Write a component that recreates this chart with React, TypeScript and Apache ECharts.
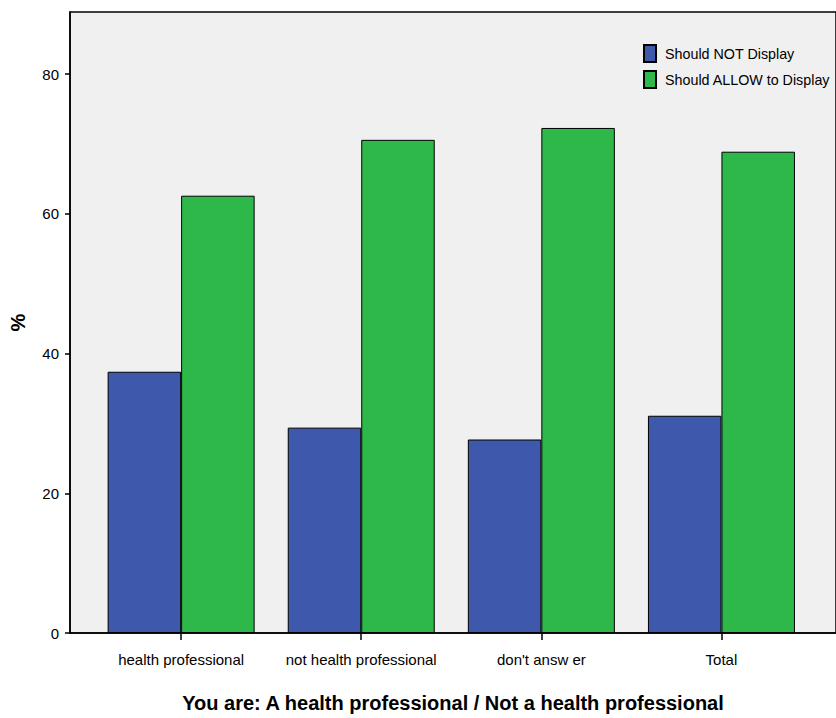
import React, { useEffect, useRef } from "react";
import * as echarts from "echarts";

const categories = ["health professional", "not health professional", "don't answ er", "Total"];
const seriesNames = ["Should NOT Display", "Should ALLOW to Display"];
const notDisplay = [37.4, 29.4, 27.7, 31.1];
const allowDisplay = [62.6, 70.6, 72.3, 68.9];
const yTicks = [0, 20, 40, 60, 80];
const xTitle = "You are: A health professional / Not a health professional";
const yTitle = "%";

const FONT = "'Liberation Sans', Arial, sans-serif";

export default function App() {
  const ref = useRef<HTMLDivElement>(null);
  useEffect(() => {
    if (!ref.current) return;
    const chart = echarts.init(ref.current, undefined, { renderer: "svg" });
    const idx = categories.map((_, i) => i);
    chart.setOption({
      animation: false,
      textStyle: { fontFamily: FONT, color: "#000" },
      grid: {
        left: 67,
        top: 12,
        bottom: 82,
        right: -3,
        show: true,
        backgroundColor: "#f0f0f0",
        borderColor: "#000",
        borderWidth: 1.5,
      },
      legend: {
        orient: "vertical",
        left: 643,
        top: 44,
        padding: 0,
        itemWidth: 12,
        itemHeight: 17,
        itemGap: 7,
        icon: "rect",
        textStyle: { fontSize: 14.3, color: "#000", fontFamily: FONT, padding: [0, 0, 0, 4] },
        data: seriesNames,
      },
      xAxis: {
        type: "value",
        min: -0.617,
        max: 3.636,
        name: xTitle,
        nameLocation: "middle",
        nameGap: 60,
        nameTextStyle: { fontSize: 20, fontWeight: "bold", color: "#000", fontFamily: FONT },
        axisLine: { show: true, onZero: false, lineStyle: { color: "#000", width: 1.5 } },
        axisTick: { show: true, length: 7, customValues: idx, lineStyle: { color: "#000", width: 1.5 } },
        axisLabel: {
          customValues: idx,
          margin: 19,
          fontSize: 15,
          color: "#000",
          fontFamily: FONT,
          formatter: (v: number) => categories[Math.round(v)] ?? "",
        },
        splitLine: { show: false },
      },
      yAxis: {
        type: "value",
        min: 0,
        max: 88.9,
        name: yTitle,
        nameLocation: "middle",
        nameGap: 42,
        nameTextStyle: { fontSize: 20, fontWeight: "bold", color: "#000", fontFamily: FONT },
        axisLine: { show: true, onZero: false, lineStyle: { color: "#000", width: 1.5 } },
        axisTick: { show: true, length: 5, customValues: yTicks, lineStyle: { color: "#000", width: 1.5 } },
        axisLabel: { customValues: yTicks, margin: 11, fontSize: 15, color: "#000", fontFamily: FONT },
        splitLine: { show: false },
      },
      series: [
        {
          name: seriesNames[0],
          type: "bar",
          barWidth: 73.5,
          barGap: "0%",
          itemStyle: { color: "#3e58ac", borderColor: "#000", borderWidth: 1 },
          data: notDisplay.map((v, i) => [i, v]),
        },
        {
          name: seriesNames[1],
          type: "bar",
          barWidth: 73.5,
          barGap: "0%",
          itemStyle: { color: "#2fb84a", borderColor: "#000", borderWidth: 1 },
          data: allowDisplay.map((v, i) => [i, v]),
        },
      ],
    });
    return () => chart.dispose();
  }, []);
  return (
    <div
      ref={ref}
      style={{ position: "absolute", left: 0, top: 0, width: 836, height: 718, background: "#fff" }}
    />
  );
}
